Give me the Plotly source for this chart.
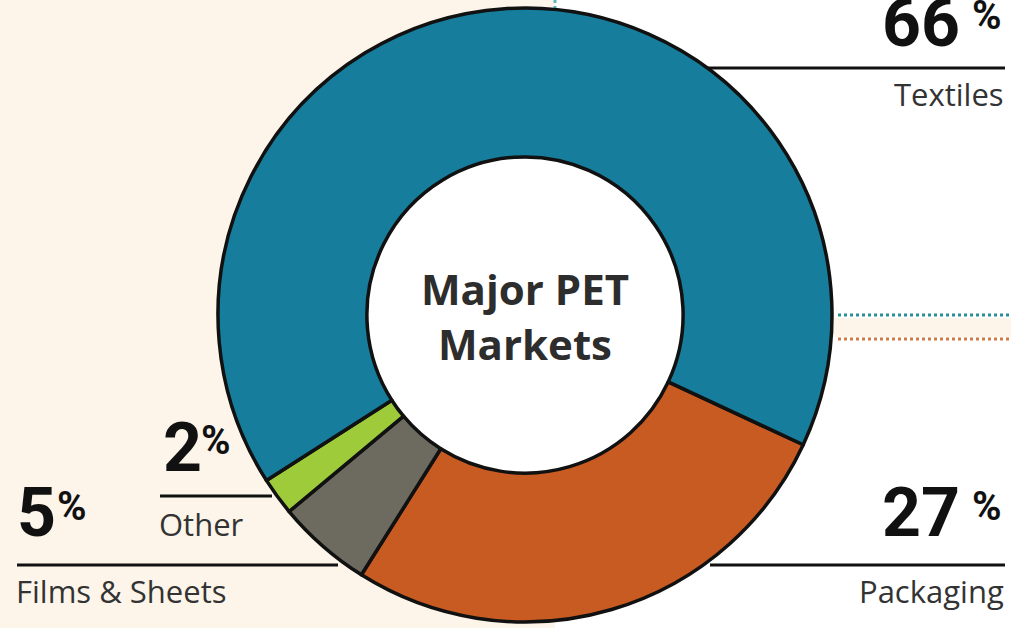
import plotly.graph_objects as go

# Data
categories = ["Packaging", "Films & Sheets", "Other", "Textiles"]
shares = [27, 5, 2, 66]
colors = ["#c85b22", "#6d6a5f", "#9dcb3a", "#167e9c"]
center_title = "Major PET<br>Markets"

W, H = 1011, 628
cx, cy, R = 525, 315, 307

fig = go.Figure()
fig.add_trace(go.Pie(
    labels=categories, values=shares, sort=False, direction="clockwise",
    rotation=115, hole=0.515, textinfo="none", hoverinfo="label+percent",
    marker=dict(colors=colors, line=dict(color="#111111", width=3.5)),
    domain=dict(x=[(cx - R) / W, (cx + R) / W], y=[(H - cy - R) / H, (H - cy + R) / H]),
    showlegend=False,
))

shapes = []
cream = "#fdf5ea"
shapes.append(dict(type="rect", xref="x", yref="y", x0=0, x1=555, y0=0, y1=H, fillcolor=cream, line_width=0, layer="below"))
shapes.append(dict(type="rect", xref="x", yref="y", x0=820, x1=W, y0=318, y1=337, fillcolor=cream, line_width=0, layer="below"))
shapes.append(dict(type="circle", xref="x", yref="y", x0=cx - 160, x1=cx + 160, y0=cy - 160, y1=cy + 160, fillcolor="white", line_width=0, layer="below"))
# dotted connectors
shapes.append(dict(type="line", xref="x", yref="y", x0=838, x1=W, y0=315, y1=315, line=dict(color="#2a8d9a", width=3, dash="dot"), layer="below"))
shapes.append(dict(type="line", xref="x", yref="y", x0=838, x1=W, y0=339, y1=339, line=dict(color="#d07a45", width=3, dash="dot"), layer="below"))
shapes.append(dict(type="line", xref="x", yref="y", x0=555, x1=555, y0=0, y1=10, line=dict(color="#5fb8c0", width=3, dash="dot"), layer="below"))
# leader lines
for x0, x1, y in [(707, 1005, 68), (710, 1005, 565), (160, 272, 496), (17, 338, 565)]:
    shapes.append(dict(type="line", xref="x", yref="y", x0=x0, x1=x1, y0=y, y1=y, line=dict(color="#111111", width=3)))

big_font = "Roboto, sans-serif"
lab_font = "Open Sans, sans-serif"
anns = []
def add(text, x, y, xanchor, size, family, color="#111111", bold=False):
    anns.append(dict(text=("<b>%s</b>" % text) if bold else text, x=x, y=y, xref="x", yref="y",
                     xanchor=xanchor, yanchor="middle", showarrow=False,
                     font=dict(size=size, family=family, color=color)))

pct_labels = [("66", 962, 23, "right"), ("27", 962, 513, "right"), ("2", 161, 448, "left"), ("5", 15, 513, "left")]
pct_signs = [(1004, 15, "right"), (1004, 506, "right"), (199, 440, "left"), (55, 506, "left")]
for (t, x, y, a), (px, py, pa) in zip(pct_labels, pct_signs):
    add(t, x, y, a, 68, big_font, bold=True)
    add("%", px, py, pa, 40, big_font, bold=True)

add("Textiles", 1006, 94, "right", 31, lab_font, "#333333")
add("Packaging", 1006, 591, "right", 31, lab_font, "#333333")
add("Other", 157, 524, "left", 31, lab_font, "#333333")
add("Films & Sheets", 14, 591, "left", 31, lab_font, "#333333")
add(center_title, cx, 316, "center", 42, lab_font, "#2d2d2d", bold=True)

fig.update_layout(
    width=W, height=H, margin=dict(l=0, r=0, t=0, b=0),
    paper_bgcolor="white", plot_bgcolor="rgba(0,0,0,0)",
    xaxis=dict(range=[0, W], visible=False, fixedrange=True),
    yaxis=dict(range=[H, 0], visible=False, fixedrange=True),
    shapes=shapes, annotations=anns,
)
fig.write_html("out.html")
